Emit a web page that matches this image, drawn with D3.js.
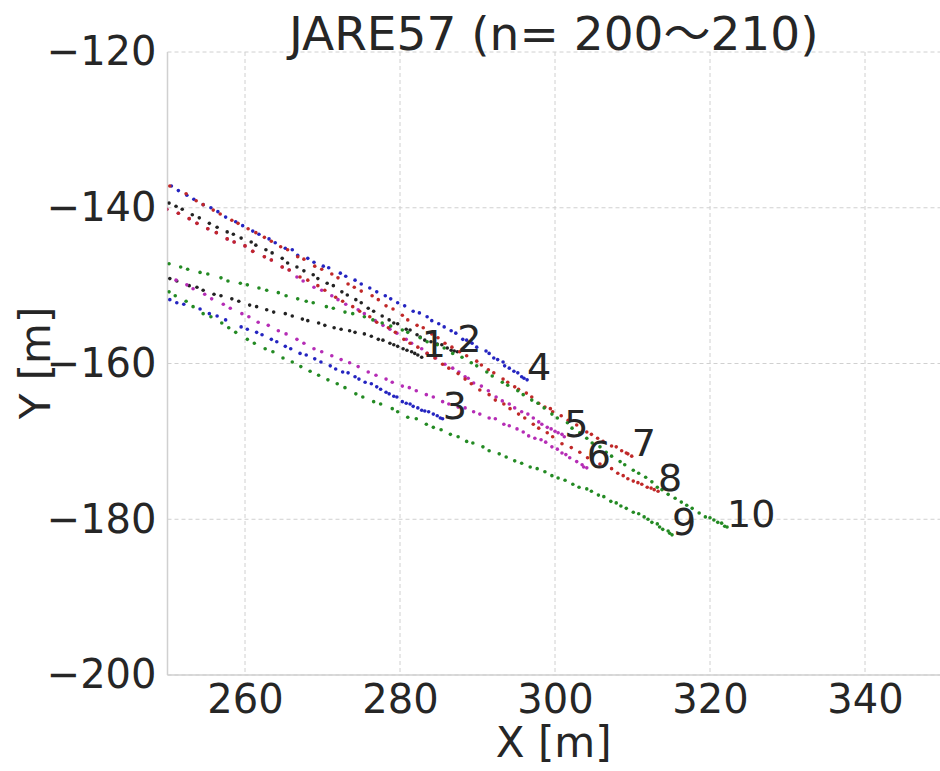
<!DOCTYPE html>
<html>
<head>
<meta charset="utf-8">
<title>JARE57 tracks</title>
<script src="https://d3js.org/d3.v7.min.js"></script>
<style>
body { margin: 0; background: #fff; }
svg { display: block; }
text { font-family: "DejaVu Sans", "Noto Sans CJK JP", sans-serif; fill: #262626; }
</style>
</head>
<body>
<svg id="chart" width="940" height="771"></svg>
<script>

// tick values
let xTicks = [260, 280, 300, 320, 340];
let yTicks = [-200, -180, -160, -140, -120];
let trackLabels = ["1", "2", "3", "4", "5", "6", "7", "8", "9", "10"];

// tracks, [x, y] in metres
let track1 = [[250.3,-149.1],[251.2,-149.4],[252.8,-150.0],[253.8,-150.2],[254.6,-150.6],[256.0,-151.1],[256.9,-151.3],[258.3,-151.7],[259.2,-152.0],[260.6,-152.5],[261.5,-152.7],[262.8,-153.1],[263.7,-153.4],[265.2,-153.6],[266.1,-153.9],[267.4,-154.3],[268.1,-154.5],[269.5,-154.8],[270.3,-155.1],[271.5,-155.4],[272.4,-155.6],[273.5,-155.8],[274.2,-156.0],[275.4,-156.2],[276.3,-156.5],[277.2,-156.9],[277.8,-157.0],[278.7,-157.4],[279.2,-157.6],[279.7,-157.8],[280.4,-158.1],[280.9,-158.3],[281.5,-158.5],[281.9,-158.7],[282.3,-158.9],[282.8,-159.2]];
let track2 = [[250.2,-139.4],[251.1,-139.8],[251.9,-140.2],[253.2,-140.9],[254.1,-141.3],[255.4,-142.0],[256.4,-142.5],[257.7,-143.1],[258.5,-143.4],[259.5,-143.9],[260.8,-144.4],[261.4,-144.8],[262.7,-145.4],[263.5,-145.8],[264.8,-146.5],[265.5,-147.1],[266.7,-147.6],[267.6,-148.1],[268.8,-148.6],[269.4,-149.1],[270.6,-149.7],[271.4,-150.0],[272.5,-150.8],[273.2,-151.2],[274.3,-151.8],[275.0,-152.2],[275.9,-152.9],[276.6,-153.3],[277.7,-153.9],[278.6,-154.4],[279.2,-154.8],[279.7,-154.9],[280.8,-155.6],[281.3,-155.7],[282.2,-156.3],[282.6,-156.6],[283.2,-157.0],[284.0,-157.2],[284.8,-157.5],[285.4,-157.6],[286.1,-158.0],[286.6,-158.3],[287.0,-158.4],[287.4,-158.5]];
let track3 = [[250.3,-151.8],[251.2,-152.2],[252.1,-152.4],[254.2,-153.0],[255.4,-153.6],[256.4,-153.9],[257.5,-154.4],[259.5,-155.3],[260.3,-155.6],[261.5,-156.0],[262.2,-156.3],[263.4,-156.9],[264.1,-157.2],[265.2,-157.8],[265.9,-158.1],[267.1,-158.7],[267.9,-158.9],[269.0,-159.4],[269.8,-159.8],[271.0,-160.3],[271.7,-160.7],[272.6,-161.1],[273.3,-161.2],[274.2,-161.7],[274.7,-162.0],[275.5,-162.4],[276.3,-162.6],[277.0,-163.0],[277.5,-163.3],[278.2,-163.7],[278.6,-163.9],[279.2,-164.2],[279.6,-164.3],[280.3,-164.9],[280.8,-165.1],[281.3,-165.2],[281.7,-165.5],[282.3,-165.7],[282.8,-166.0],[283.2,-166.1],[283.7,-166.2],[284.3,-166.5],[284.8,-166.7],[285.2,-167.0],[285.5,-167.1]];
let track4 = [[250.5,-137.2],[251.4,-137.8],[252.5,-138.4],[253.4,-138.9],[254.6,-139.6],[255.6,-140.0],[256.5,-140.5],[257.5,-141.2],[258.8,-141.8],[259.7,-142.3],[261.0,-143.0],[261.8,-143.4],[263.1,-144.0],[263.9,-144.5],[265.2,-145.2],[266.1,-145.4],[266.8,-146.1],[268.1,-146.5],[268.9,-147.0],[270.1,-147.5],[270.8,-147.7],[272.3,-148.4],[273.0,-148.8],[274.2,-149.3],[275.0,-149.8],[276.1,-150.3],[277.0,-150.8],[278.1,-151.3],[278.8,-151.7],[279.7,-152.2],[280.6,-152.6],[281.7,-153.3],[282.5,-153.5],[283.5,-154.0],[284.1,-154.5],[285.0,-154.9],[285.7,-155.3],[286.6,-155.8],[287.2,-156.1],[288.1,-156.9],[288.6,-157.0],[289.3,-157.4],[289.9,-157.9],[291.1,-158.4],[291.5,-158.7],[292.1,-159.3],[292.6,-159.5],[293.3,-159.8],[293.5,-160.3],[294.1,-160.6],[294.7,-161.0],[295.2,-161.2],[295.7,-161.7],[296.0,-161.9],[296.4,-162.1]];
let track5 = [[249.9,-140.2],[251.4,-140.7],[252.8,-141.4],[253.8,-142.0],[255.2,-142.7],[256.3,-143.2],[257.7,-144.0],[258.6,-144.4],[260.0,-144.9],[261.0,-145.6],[262.5,-146.3],[263.4,-146.7],[264.8,-147.6],[265.7,-148.0],[266.7,-148.9],[267.5,-149.4],[268.9,-150.2],[269.9,-150.6],[271.2,-151.3],[272.0,-151.8],[273.0,-152.4],[274.6,-153.1],[275.4,-153.6],[276.8,-154.5],[277.8,-155.1],[278.7,-155.6],[279.6,-156.1],[280.8,-156.9],[281.5,-157.4],[282.8,-158.1],[283.5,-158.7],[284.6,-159.3],[285.8,-160.1],[286.8,-160.6],[287.6,-161.1],[288.4,-161.7],[288.8,-161.9],[289.5,-162.5],[290.5,-162.9],[291.4,-163.5],[292.4,-164.3],[293.2,-164.8],[294.1,-165.2],[294.8,-165.7],[295.7,-166.2],[296.5,-166.5],[297.2,-167.0],[297.9,-167.5],[298.3,-167.8],[299.0,-168.2],[299.5,-168.4],[300.0,-168.7],[300.4,-168.9],[300.9,-169.1],[301.2,-169.4]];
let track6 = [[251.1,-149.3],[252.5,-149.9],[253.3,-150.4],[254.8,-151.1],[255.7,-151.7],[257.2,-152.4],[258.1,-152.9],[259.6,-153.6],[260.5,-154.0],[261.7,-154.7],[263.0,-155.1],[264.3,-155.8],[265.3,-156.2],[266.7,-156.9],[267.6,-157.4],[268.9,-158.1],[269.9,-158.5],[271.2,-159.0],[272.4,-159.5],[273.5,-159.9],[274.6,-160.4],[275.9,-161.1],[276.9,-161.5],[278.2,-162.0],[279.0,-162.4],[280.3,-162.9],[281.2,-163.1],[282.1,-163.5],[283.4,-164.0],[284.3,-164.3],[285.5,-164.9],[286.3,-165.2],[287.5,-165.6],[288.4,-165.7],[289.5,-166.2],[290.3,-166.5],[291.5,-167.0],[292.3,-167.1],[293.4,-167.8],[294.1,-168.0],[295.1,-168.4],[295.9,-168.8],[296.6,-169.3],[297.4,-169.6],[298.2,-169.8],[298.8,-170.1],[299.6,-170.7],[300.3,-171.0],[300.9,-171.5],[301.4,-171.7],[301.9,-172.1],[302.8,-172.6],[303.5,-173.0],[303.7,-173.3],[304.1,-173.4]];
let track7 = [[250.3,-137.2],[252.4,-138.2],[253.7,-139.1],[254.6,-139.6],[255.9,-140.3],[256.8,-140.8],[258.3,-141.6],[259.1,-142.0],[260.4,-142.7],[261.4,-143.2],[262.5,-143.8],[263.4,-144.3],[264.6,-145.0],[265.5,-145.4],[266.8,-146.3],[267.6,-146.6],[269.0,-147.5],[269.9,-147.9],[271.2,-148.5],[272.0,-149.0],[273.3,-149.8],[274.1,-150.2],[275.0,-150.7],[276.4,-151.3],[277.2,-151.8],[278.2,-152.6],[279.1,-153.0],[280.3,-153.8],[281.0,-154.4],[282.2,-155.1],[283.0,-155.4],[284.1,-156.2],[284.9,-156.7],[285.8,-157.4],[286.7,-157.9],[287.7,-158.5],[288.6,-159.0],[289.9,-159.7],[290.5,-160.2],[291.4,-160.8],[292.1,-161.2],[293.3,-162.0],[293.9,-162.4],[294.8,-163.0],[295.3,-163.3],[296.3,-163.8],[297.0,-164.3],[297.9,-165.1],[298.7,-165.6],[299.4,-165.8],[299.7,-166.2],[300.8,-166.7],[301.7,-167.3],[302.8,-167.9],[304.1,-168.8],[304.7,-169.1],[305.5,-169.6],[306.2,-170.0],[307.3,-170.6],[307.9,-170.7],[308.6,-171.2],[309.2,-171.5],[309.4,-171.6],[309.9,-171.9]];
let track8 = [[249.9,-140.2],[251.4,-140.7],[252.8,-141.4],[253.8,-142.0],[255.2,-142.7],[256.3,-143.2],[257.7,-144.0],[258.6,-144.4],[260.0,-144.9],[261.0,-145.6],[262.5,-146.3],[263.4,-146.7],[264.8,-147.6],[265.7,-148.0],[267.1,-148.9],[268.1,-149.3],[269.4,-150.0],[270.3,-150.6],[271.7,-151.5],[272.6,-152.0],[273.9,-152.7],[274.8,-153.3],[276.1,-154.0],[277.0,-154.7],[278.5,-155.4],[279.4,-156.0],[280.5,-156.9],[281.3,-157.4],[282.3,-157.9],[283.5,-158.7],[284.5,-159.3],[285.5,-160.1],[286.3,-160.6],[287.5,-161.3],[288.4,-162.0],[289.2,-162.6],[290.3,-163.4],[291.5,-164.0],[292.3,-164.7],[293.4,-165.2],[294.2,-165.8],[295.3,-166.5],[296.1,-167.0],[297.2,-167.8],[297.9,-168.3],[299.0,-168.9],[299.7,-169.4],[300.9,-170.3],[302.1,-170.8],[303.2,-171.4],[304.2,-172.1],[305.8,-172.9],[307.3,-173.5],[308.1,-174.1],[308.8,-174.4],[309.4,-174.8],[310.1,-175.1],[310.7,-175.3],[311.2,-175.5],[311.9,-175.9],[312.4,-176.0],[312.8,-176.2],[313.3,-176.4]];
let track9 = [[250.2,-150.8],[251.0,-151.3],[252.4,-152.0],[253.3,-152.7],[254.6,-153.6],[255.6,-154.0],[257.0,-154.8],[257.9,-155.4],[258.8,-156.0],[260.3,-156.9],[261.2,-157.4],[262.6,-158.1],[263.6,-158.5],[264.9,-159.3],[266.1,-159.8],[267.2,-160.4],[268.4,-161.0],[269.5,-161.5],[270.7,-162.1],[271.9,-162.6],[272.9,-163.1],[274.3,-163.9],[275.2,-164.3],[276.6,-164.9],[277.5,-165.2],[279.0,-165.8],[279.7,-166.2],[281.0,-166.9],[282.1,-167.1],[283.4,-167.8],[284.3,-168.2],[285.3,-168.5],[286.5,-169.1],[287.5,-169.4],[288.6,-170.0],[289.4,-170.2],[290.7,-170.7],[291.5,-171.2],[292.8,-171.6],[293.7,-172.0],[294.8,-172.5],[295.7,-172.8],[296.8,-173.3],[297.7,-173.5],[298.7,-173.9],[299.6,-174.4],[300.4,-174.7],[301.3,-175.0],[302.3,-175.5],[303.1,-175.9],[304.1,-176.1],[304.7,-176.4],[305.6,-176.9],[306.3,-177.1],[307.2,-177.7],[307.9,-177.9],[308.5,-178.3],[309.2,-178.6],[310.1,-179.1],[310.8,-179.3],[311.5,-179.7],[312.0,-180.0],[312.5,-180.4],[313.2,-180.6],[313.5,-181.0],[313.9,-181.3],[314.6,-181.5],[314.8,-181.8],[315.1,-182.0]];
let track10 = [[250.2,-147.2],[251.7,-147.6],[252.6,-147.9],[254.2,-148.3],[255.2,-148.5],[256.9,-149.0],[257.8,-149.4],[259.4,-149.7],[260.3,-149.9],[261.8,-150.3],[262.8,-150.6],[264.3,-150.9],[265.3,-151.3],[266.8,-151.7],[267.9,-152.0],[268.8,-152.2],[270.5,-152.7],[271.4,-152.9],[272.9,-153.4],[273.9,-153.6],[275.4,-154.0],[276.5,-154.4],[277.7,-154.8],[278.8,-155.2],[280.3,-155.7],[281.0,-156.0],[282.6,-156.7],[283.5,-157.2],[284.8,-157.6],[285.7,-158.0],[286.8,-158.7],[288.0,-159.2],[289.2,-159.9],[289.9,-160.3],[291.2,-161.1],[291.9,-161.6],[293.2,-162.4],[293.9,-162.8],[295.2,-163.5],[295.9,-164.0],[297.0,-164.7],[297.8,-165.1],[298.6,-165.7],[299.6,-166.5],[300.3,-167.0],[301.6,-167.6],[302.2,-168.3],[303.2,-168.9],[304.1,-169.6],[304.8,-170.2],[305.8,-170.7],[306.6,-171.4],[307.3,-171.9],[308.4,-172.6],[309.0,-173.0],[310.1,-173.7],[310.8,-174.1],[311.7,-174.6],[312.5,-175.2],[313.2,-175.9],[313.8,-176.2],[314.6,-176.8],[315.5,-177.3],[316.3,-177.8],[317.0,-178.2],[317.7,-178.6],[318.6,-179.2],[319.4,-179.7],[320.0,-179.8],[320.5,-180.1],[321.0,-180.4],[321.5,-180.5],[321.9,-180.9],[322.2,-181.0]];

let tracks = [track1, track2, track3, track4, track5, track6, track7, track8, track9, track10];
let trackColors = ["#222222", "#222222", "#2424c0", "#2424c0", "#b52cb5", "#b52cb5", "#c02828", "#c02828", "#238a23", "#238a23"];

let plotLeft = 167.5, plotRight = 942.5, plotTop = 52, plotBottom = 675;

let svg = d3.select("#chart");
let x = d3.scaleLinear().domain([250, 350]).range([plotLeft, plotRight]);
let y = d3.scaleLinear().domain([-200, -120]).range([plotBottom, plotTop]);

svg.append("clipPath").attr("id", "plotclip")
  .append("rect")
    .attr("x", plotLeft).attr("y", plotTop)
    .attr("width", plotRight - plotLeft).attr("height", plotBottom - plotTop);

// grid
let grid = svg.append("g").attr("stroke", "#d0d0d0").attr("stroke-width", 1).attr("stroke-dasharray", "4,3");
grid.selectAll(".gx").data(xTicks).enter().append("line")
  .attr("class", "gx")
  .attr("x1", function(d){ return x(d); }).attr("x2", function(d){ return x(d); })
  .attr("y1", plotTop).attr("y2", plotBottom);
grid.selectAll(".gy").data(yTicks).enter().append("line")
  .attr("class", "gy")
  .attr("x1", plotLeft).attr("x2", plotRight)
  .attr("y1", function(d){ return y(d); }).attr("y2", function(d){ return y(d); });

// spines
svg.append("line").attr("x1", plotLeft).attr("x2", plotLeft).attr("y1", plotTop).attr("y2", plotBottom)
  .attr("stroke", "#d0d0d0").attr("stroke-width", 1.5);
svg.append("line").attr("x1", plotLeft).attr("x2", plotRight).attr("y1", plotBottom).attr("y2", plotBottom)
  .attr("stroke", "#d0d0d0").attr("stroke-width", 1.5);

// axes (labels only)
let xAxis = svg.append("g").attr("transform", "translate(0," + plotBottom + ")")
  .call(d3.axisBottom(x).tickValues(xTicks).tickSize(0).tickPadding(10));
let yAxis = svg.append("g").attr("transform", "translate(" + plotLeft + ",0)")
  .call(d3.axisLeft(y).tickValues(yTicks).tickSize(0).tickPadding(11));
svg.selectAll(".domain").remove();
svg.selectAll(".tick text").attr("font-family", null).attr("font-size", 40).attr("fill", "#262626");

// tracks
let plot = svg.append("g").attr("clip-path", "url(#plotclip)");
tracks.forEach(function(t, i) {
  plot.append("g").selectAll("circle").data(t).enter().append("circle")
    .attr("cx", function(d){ return x(d[0]); })
    .attr("cy", function(d){ return y(d[1]); })
    .attr("r", 1.8)
    .attr("fill", trackColors[i]);
});

// end labels
svg.append("g").selectAll("text").data(tracks).enter().append("text")
  .attr("x", function(d){ return x(d[d.length - 1][0]); })
  .attr("y", function(d){ return y(d[d.length - 1][1]); })
  .attr("font-size", 38)
  .text(function(d, i){ return trackLabels[i]; });

// titles
svg.append("text").attr("x", (plotLeft + 940) / 2).attr("y", 50)
  .attr("text-anchor", "middle").attr("font-size", 47)
  .text("JARE57 (n= 200〜210)");
svg.append("text").attr("x", (plotLeft + 940) / 2).attr("y", 757)
  .attr("text-anchor", "middle").attr("font-size", 42)
  .text("X [m]");
svg.append("text").attr("transform", "translate(50,363) rotate(-90)")
  .attr("text-anchor", "middle").attr("font-size", 42)
  .text("Y [m]");

</script>
</body>
</html>
